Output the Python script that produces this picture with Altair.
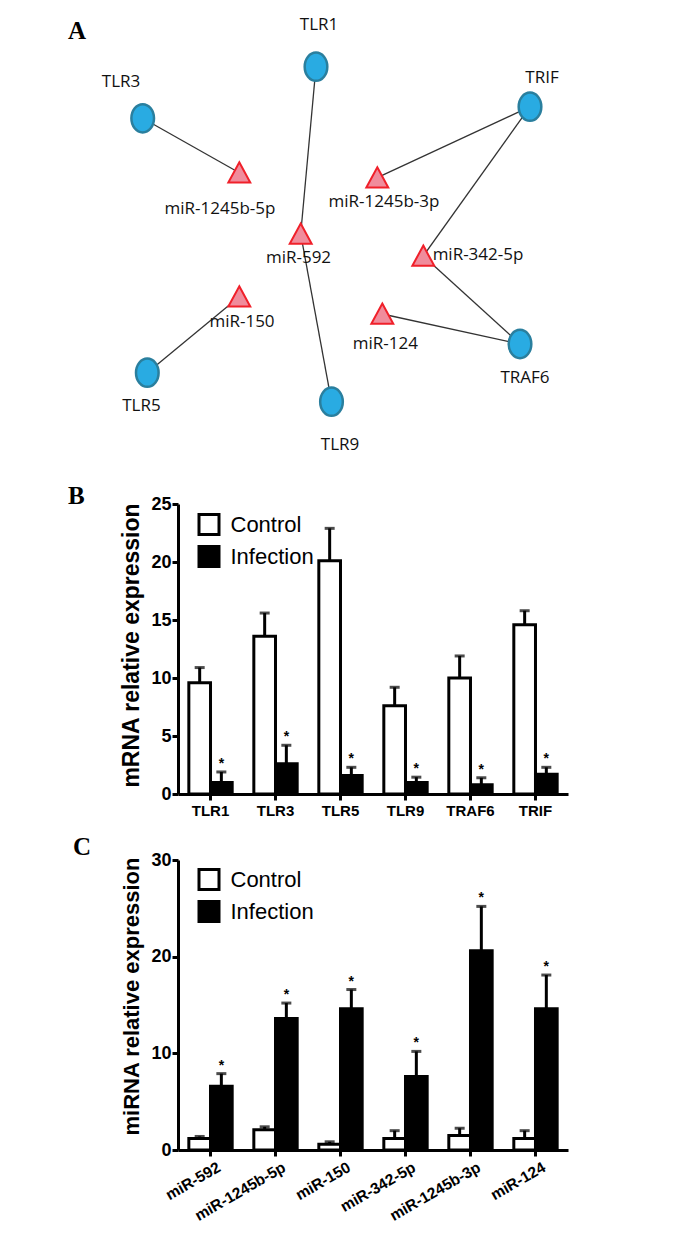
import altair as alt
import pandas as pd

# ---------------- Panel A: network ----------------
node_names = ["TLR1", "TLR3", "TRIF", "TLR5", "TLR9", "TRAF6",
              "miR-1245b-5p", "miR-1245b-3p", "miR-592", "miR-342-5p", "miR-150", "miR-124"]
node_kind = ["gene"] * 6 + ["miRNA"] * 6
node_x = [316, 142.7, 530, 147.3, 331.5, 520, 239.3, 377.3, 300.7, 423.3, 239.3, 382.3]
node_y = [66.7, 118.3, 106.7, 372.7, 401.7, 344, 172.7, 177.7, 234, 256, 296.7, 314]
label_x = [319, 121, 542, 141.4, 340, 525, 220, 384, 298.5, 478, 242, 385.4]
label_y = [25, 82, 78, 406, 445, 377.5, 209, 202, 258, 255, 322, 344]
edge_source = ["TLR3", "TLR1", "miR-592", "TRIF", "TRIF", "miR-342-5p", "miR-124", "miR-150"]
edge_target = ["miR-1245b-5p", "miR-592", "TLR9", "miR-1245b-3p", "miR-342-5p", "TRAF6", "TRAF6", "TLR5"]

# ---------------- Panel B: mRNA ----------------
b_genes = ["TLR1", "TLR3", "TLR5", "TLR9", "TRAF6", "TRIF"]
b_control = [9.6, 13.6, 20.1, 7.6, 10.0, 14.6]
b_control_sem = [1.3, 2.0, 2.8, 1.6, 1.9, 1.2]
b_infection = [1.0, 2.6, 1.6, 1.0, 0.8, 1.7]
b_infection_sem = [0.9, 1.6, 0.7, 0.45, 0.6, 0.6]

# ---------------- Panel C: miRNA ----------------
c_mirs = ["miR-592", "miR-1245b-5p", "miR-150", "miR-342-5p", "miR-1245b-3p", "miR-124"]
c_control = [1.2, 2.1, 0.6, 1.2, 1.5, 1.2]
c_control_sem = [0.2, 0.3, 0.25, 0.8, 0.75, 0.8]
c_infection = [6.6, 13.6, 14.6, 7.6, 20.6, 14.6]
c_infection_sem = [1.3, 1.6, 2.0, 2.6, 4.6, 3.5]

groups = ["Control", "Infection"]

# ---------- build panel A ----------
nodes = pd.DataFrame({"name": node_names, "kind": node_kind, "x": node_x, "y": node_y,
                      "lx": label_x, "ly": label_y})
pos = {n: (x, y) for n, x, y in zip(node_names, node_x, node_y)}
edges = pd.DataFrame({
    "x": [pos[s][0] for s in edge_source], "y": [pos[s][1] for s in edge_source],
    "x2": [pos[t][0] for t in edge_target], "y2": [pos[t][1] for t in edge_target],
})

xs = alt.Scale(domain=[178, 620], nice=False, zero=False)
ys = alt.Scale(domain=[10, 460], nice=False, zero=False, reverse=True)

ellipse = "M -0.8 0 A 0.8 1 0 1 1 0.8 0 A 0.8 1 0 1 1 -0.8 0 Z"
triangle = "M 0 -0.95 L 1 0.9 L -1 0.9 Z"

edge_layer = alt.Chart(edges).mark_rule(color="#333333", strokeWidth=1.3).encode(
    x=alt.X("x:Q", scale=xs, axis=None), y=alt.Y("y:Q", scale=ys, axis=None),
    x2="x2:Q", y2="y2:Q")
gene_layer = alt.Chart(nodes).transform_filter(alt.datum.kind == "gene").mark_point(
    shape=ellipse, size=800, filled=True, fill="#29ABE2", stroke="#2A7F9E",
    strokeWidth=2.5, opacity=1).encode(
    x=alt.X("x:Q", scale=xs, axis=None), y=alt.Y("y:Q", scale=ys, axis=None))
mir_layer = alt.Chart(nodes).transform_filter(alt.datum.kind == "miRNA").mark_point(
    shape=triangle, size=480, filled=True, fill="#F08C9C", stroke="#F0202A",
    strokeWidth=2, opacity=1).encode(
    x=alt.X("x:Q", scale=xs, axis=None), y=alt.Y("y:Q", scale=ys, axis=None))
label_layer = alt.Chart(nodes).mark_text(font="Open Sans", fontSize=17, color="#111111",
                                         baseline="middle", align="center").encode(
    x=alt.X("lx:Q", scale=xs, axis=None), y=alt.Y("ly:Q", scale=ys, axis=None), text="name:N")
letter_a = alt.Chart(pd.DataFrame({"t": ["A"]})).mark_text(
    font="Liberation Serif", fontWeight="bold", fontSize=25, align="left",
    baseline="alphabetic", color="black").encode(text="t:N", x=alt.value(-110), y=alt.value(29))

panel_a = alt.layer(edge_layer, gene_layer, mir_layer, label_layer, letter_a).properties(
    width=442, height=450)


# ---------- bar panels ----------
def long_df(cats, ctrl, ctrl_sem, inf, inf_sem):
    rows = []
    for c, v, s in zip(cats, ctrl, ctrl_sem):
        rows.append({"cat": c, "group": "Control", "value": v, "top": v + s, "star": ""})
    for c, v, s in zip(cats, inf, inf_sem):
        rows.append({"cat": c, "group": "Infection", "value": v, "top": v + s, "star": "*"})
    return pd.DataFrame(rows)


def bar_panel(df, order, ymax, yvalues, ytitle, title_size, title_y, letter, letter_dx,
              letter_dy, rotate_labels, legend_x, legend_y):
    xaxis = alt.Axis(title=None, labels=not rotate_labels, labelAngle=0,
                     labelFont="Liberation Sans", labelFontWeight="bold", labelFontSize=15,
                     labelColor="black", domainColor="black", domainWidth=3,
                     tickColor="black", tickWidth=3, tickSize=6, labelPadding=3)
    yaxis = alt.Axis(values=yvalues, grid=False, title=ytitle, titleFont="Liberation Sans",
                     titleFontWeight="bold", titleFontSize=title_size, titleColor="black",
                     titlePadding=7, titleY=title_y, labelFont="Liberation Sans",
                     labelFontWeight="bold", labelFontSize=18, labelColor="black",
                     labelPadding=1, domainColor="black", domainWidth=3, tickColor="black",
                     tickWidth=3, tickSize=6)
    xscale = alt.Scale(paddingInner=0.333, paddingOuter=0.1667)
    xenc = alt.X("cat:N", sort=order, axis=xaxis, scale=xscale)
    xoff = alt.XOffset("group:N", sort=groups,
                       scale=alt.Scale(domain=groups, paddingInner=0, paddingOuter=0))
    yscale = alt.Scale(domain=[0, ymax], nice=False)
    base = alt.Chart(df).encode(x=xenc, xOffset=xoff)
    bars = base.mark_bar(stroke="black", strokeWidth=3).encode(
        y=alt.Y("value:Q", scale=yscale, axis=yaxis),
        fill=alt.Fill("group:N", scale=alt.Scale(domain=groups, range=["white", "black"]),
                      legend=alt.Legend(title=None, orient="none", legendX=legend_x,
                                        legendY=legend_y, direction="vertical",
                                        symbolType="square", symbolSize=400,
                                        symbolStrokeColor="black", symbolStrokeWidth=3,
                                        labelFont="Liberation Sans", labelFontSize=22,
                                        labelColor="black", labelOffset=10, rowPadding=-1,
                                        padding=0)))
    err = base.mark_rule(color="black", strokeWidth=3).encode(
        y=alt.Y("value:Q", scale=yscale), y2="top:Q")
    caps = base.mark_tick(color="black", size=10, thickness=3).encode(
        y=alt.Y("top:Q", scale=yscale))
    stars = base.transform_filter(alt.datum.group == "Infection").mark_text(
        font="Liberation Sans", fontWeight="bold", fontSize=14, baseline="alphabetic",
        dy=-4, color="black").encode(y=alt.Y("top:Q", scale=yscale), text="star:N")
    let = alt.Chart(pd.DataFrame({"t": [letter]})).mark_text(
        font="Liberation Serif", fontWeight="bold", fontSize=25, align="left",
        baseline="alphabetic", color="black").encode(
        text="t:N", x=alt.value(letter_dx), y=alt.value(letter_dy))
    layers = [bars, err, caps, stars, let]
    if rotate_labels:
        rot = alt.Chart(df).transform_filter(alt.datum.group == "Control").mark_text(
            angle=330, align="right", baseline="top", dx=6,
            font="Liberation Sans", fontWeight="bold", fontSize=15.5, color="black").encode(
            x=alt.X("cat:N", sort=order, axis=xaxis, scale=xscale),
            y=alt.value(303), text="cat:N")
        layers.append(rot)
    return alt.layer(*layers).properties(width=390, height=290)


df_b = long_df(b_genes, b_control, b_control_sem, b_infection, b_infection_sem)
df_c = long_df(c_mirs, c_control, c_control_sem, c_infection, c_infection_sem)

panel_b = bar_panel(df_b, b_genes, 25, [0, 5, 10, 15, 20, 25], "mRNA relative expression", 23,
                    141, "B", -110, 0, False, 19.5, 9)
panel_c = bar_panel(df_c, c_mirs, 30, [0, 10, 20, 30], "miRNA relative expression", 22,
                    136, "C", -105, -5, True, 19.5, 8)

bc = alt.concat(panel_b, panel_c, columns=1, align="none", spacing=17).resolve_scale(
    x="independent", y="independent", fill="independent", xOffset="independent"
).resolve_legend(fill="independent")

chart = alt.concat(panel_a, bc, columns=1, align="none", spacing=24).resolve_scale(
    x="independent", y="independent", fill="independent", xOffset="independent"
).resolve_legend(fill="independent").properties(
    padding={"left": 60, "top": 2, "right": 5, "bottom": 0}, background="white"
).configure_view(stroke=None)

chart.save("out.html", embed_options={"renderer": "svg", "actions": False})
